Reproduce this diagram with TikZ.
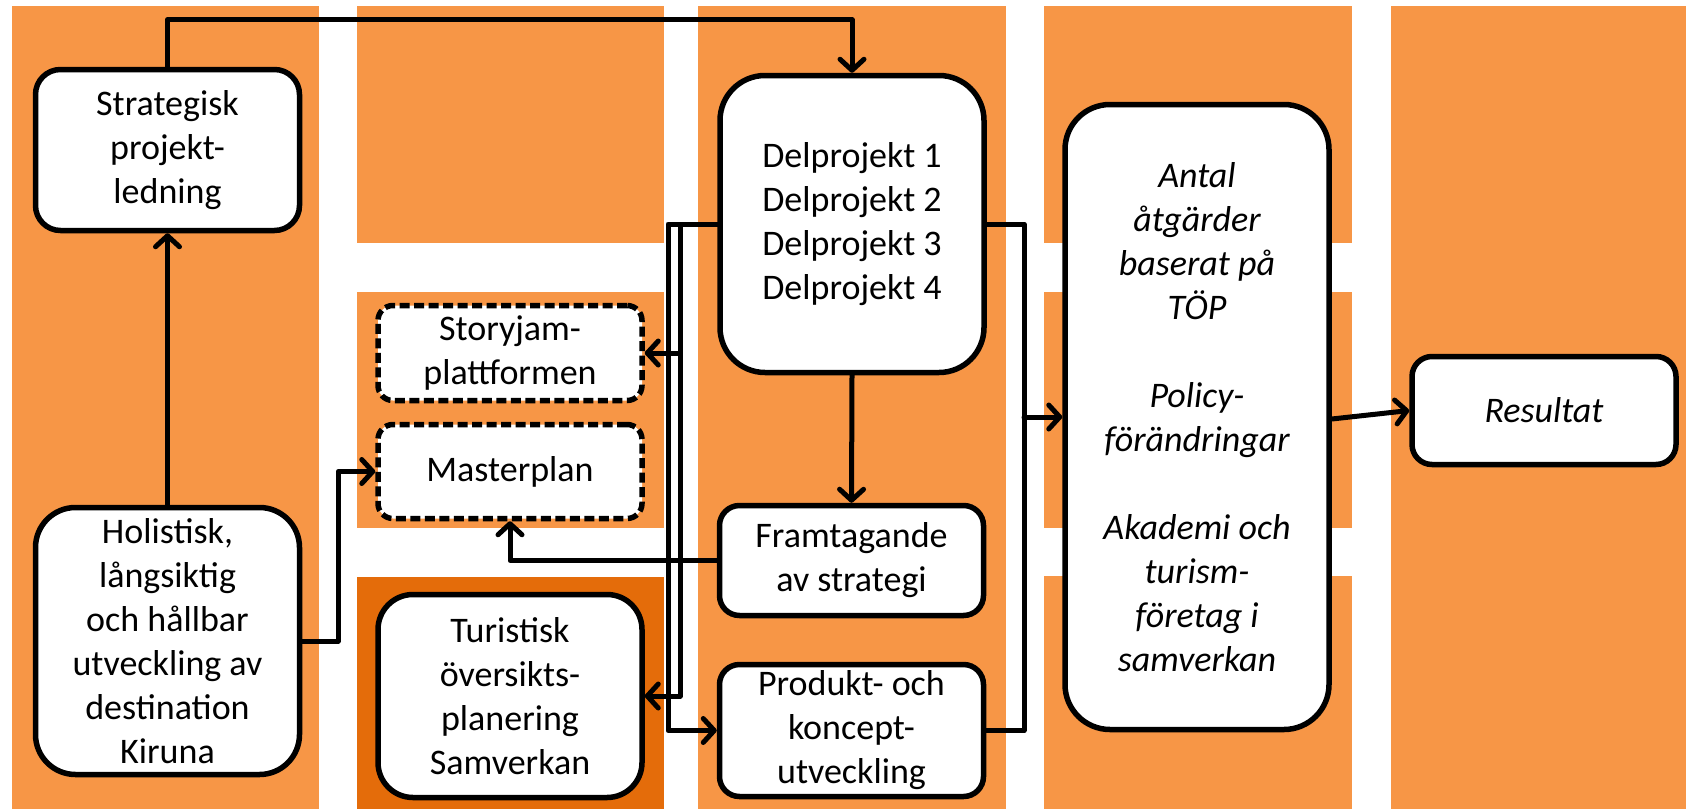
\documentclass[tikz,border=0pt]{standalone}
\usepackage{fontspec}
\setmainfont{Carlito}
\usetikzlibrary{arrows.meta}
\definecolor{lor}{HTML}{F79646}
\definecolor{dor}{HTML}{E46C0A}
\begin{document}
\begin{tikzpicture}[x=1pt,y=-1pt,
  box/.style={draw=black, line width=5.5pt, fill=white, align=center,
    font=\fontsize{36}{44}\selectfont, inner sep=0pt, minimum width=264pt},
  ibox/.style={box, font=\fontsize{36}{44}\selectfont\itshape},
  dbox/.style={box, dash pattern=on 10pt off 4.5pt},
  conn/.style={draw=black, line width=5pt, line cap=round, line join=round},
  arr/.style={conn, -{Straight Barb[length=11pt,width=24pt,line cap=round,line join=round]}},
  bg/.style={fill=lor, draw=none},
  bgd/.style={fill=dor, draw=none}]
\useasboundingbox (0,0) rectangle (1686,809);
\fill[white] (0,0) rectangle (1686,809);
% background columns
\path[bg] (12,6) rectangle (319,809);
\path[bg] (357,6) rectangle (664,243);
\path[bg] (357,292) rectangle (664,528);
\path[bgd] (357,577) rectangle (664,809);
\path[bg] (698,6) rectangle (1006,809);
\path[bg] (1044,6) rectangle (1352,243);
\path[bg] (1044,292) rectangle (1352,528);
\path[bg] (1044,576) rectangle (1352,809);
\path[bg] (1391,6) rectangle (1686,809);
% nodes
\node[box, rounded corners=25pt, minimum height=161pt] (strat) at (167.5,150) {Strategisk\\projekt-\\ledning};
\node[box, rounded corners=40pt, minimum height=267pt] (holis) at (167.5,641) {Holistisk,\\långsiktig\\och hållbar\\utveckling av\\destination\\Kiruna};
\node[dbox, rounded corners=15pt, minimum height=95pt] (story) at (510,353) {Storyjam-\\plattformen};
\node[dbox, rounded corners=15pt, minimum height=94pt] (master) at (510,471.5) {Masterplan};
\node[box, rounded corners=35pt, minimum height=203pt] (turist) at (510,696) {Turistisk\\översikts-\\planering\\Samverkan};
\node[box, rounded corners=45pt, minimum height=297pt] (delp) at (852,224) {Delprojekt 1\\Delprojekt 2\\Delprojekt 3\\Delprojekt 4};
\node[box, rounded corners=20pt, minimum height=110pt] (fram) at (851.5,560.5) {Framtagande\\av strategi};
\node[box, rounded corners=20pt, minimum height=132pt] (prod) at (851.5,730.5) {Produkt- och\\koncept-\\utveckling};
\node[ibox, rounded corners=45pt, minimum height=625pt] (antal) at (1197,417) {Antal\\åtgärder\\baserat på\\TÖP\\[44pt]Policy-\\förändringar\\[44pt]Akademi och\\turism-\\företag i\\samverkan};
\node[ibox, rounded corners=20pt, minimum height=108pt] (res) at (1544,410.5) {Resultat};
% junction coordinates
\coordinate (jo) at (668,224);
\coordinate (ji) at (680,224);
\coordinate (jr) at (1024,224);
% connectors
\draw[arr] (holis.north) -- (strat.south);
\draw[arr] (strat.north) -- ++(0,-47) -| (delp.north);
\draw[arr] (holis.east) -- ++(36,0) |- (master.west);
\draw[arr] (delp.west) -- (jo) |- (prod.west);
\draw[arr] (delp.west) -- (ji) |- (turist.east);
\draw[arr] (ji |- story.east) -- (story.east);
\draw[arr] (delp.south) -- (fram.north);
\draw[arr] (fram.west) -| (master.south);
\draw[conn] (delp.east) -- (jr) |- (prod.east);
\draw[arr] (jr |- antal.west) -- (antal.west);
\draw[arr] ([yshift=-2pt]antal.east) -- (res.west);
\end{tikzpicture}
\end{document}
